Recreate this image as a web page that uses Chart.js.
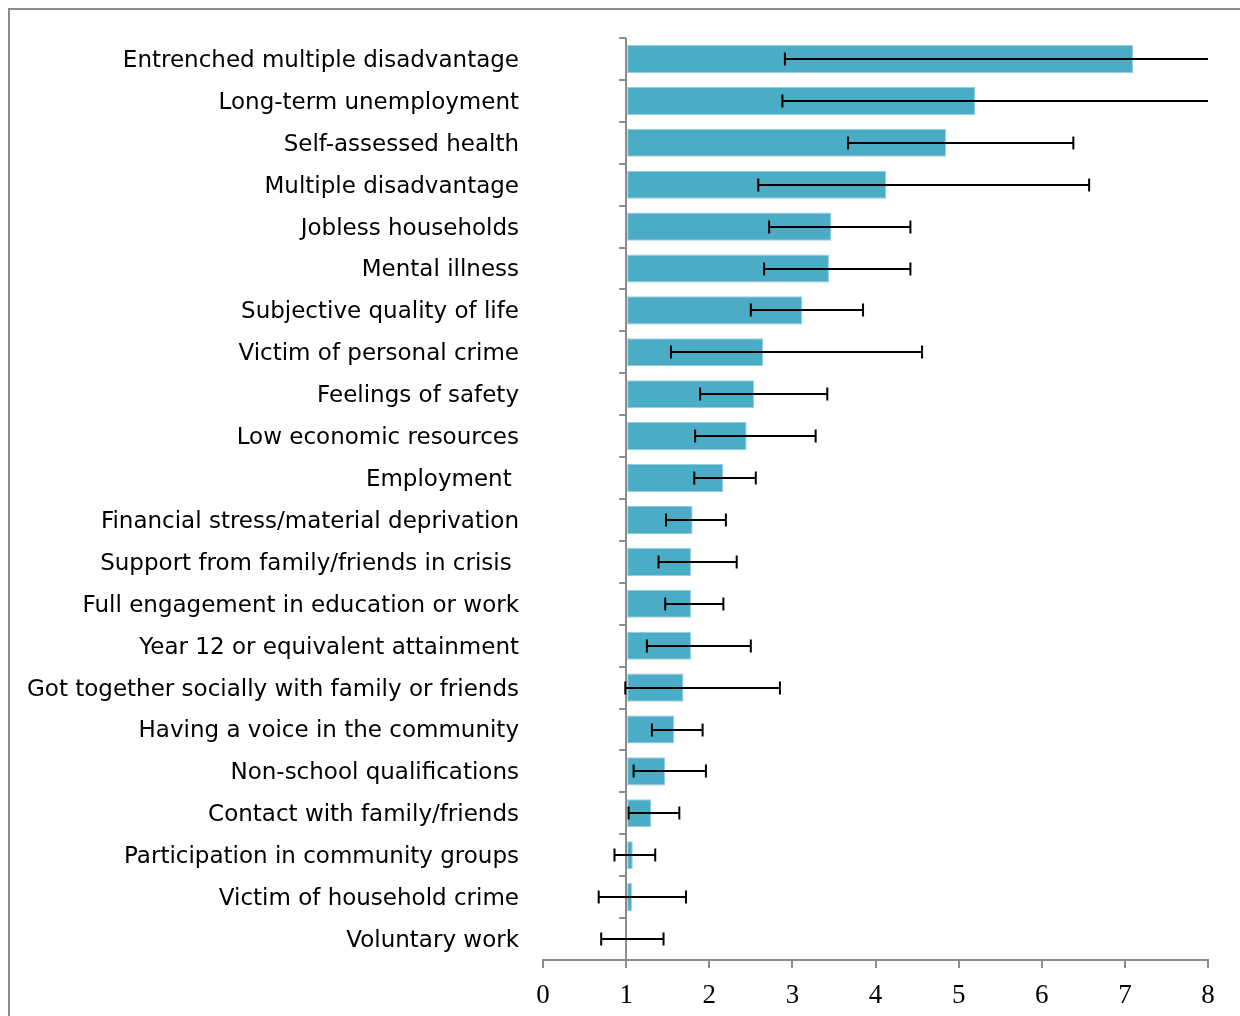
<!DOCTYPE html>
<html>
<head>
<meta charset="utf-8">
<script src="https://cdn.jsdelivr.net/npm/chart.js@4.4.1/dist/chart.umd.min.js"></script>
<style>
  html, body { margin: 0; padding: 0; background: #fff; overflow: hidden; }
  #frame { position: absolute; left: 8px; top: 8px; width: 1300px; height: 1100px;
           border-left: 2px solid #8c8c8c; border-top: 2px solid #8c8c8c; }
  #oddsChart { position: absolute; left: 0; top: 0; }
</style>
</head>
<body>
<div id="frame"></div>
<canvas id="oddsChart" width="1240" height="1016"></canvas>
<script>
let labels = ["Entrenched multiple disadvantage", "Long-term unemployment", "Self-assessed health",
  "Multiple disadvantage", "Jobless households", "Mental illness", "Subjective quality of life",
  "Victim of personal crime", "Feelings of safety", "Low economic resources", "Employment ",
  "Financial stress/material deprivation", "Support from family/friends in crisis ",
  "Full engagement in education or work", "Year 12 or equivalent attainment",
  "Got together socially with family or friends", "Having a voice in the community",
  "Non-school qualifications", "Contact with family/friends", "Participation in community groups",
  "Victim of household crime", "Voluntary work"];

let oddsRatio = [7.10, 5.20, 4.85, 4.13, 3.47, 3.44, 3.12, 2.65, 2.54, 2.45, 2.17,
  1.80, 1.78, 1.78, 1.78, 1.69, 1.58, 1.47, 1.30, 1.08, 1.07, 1.00];
let lowerCI = [2.91, 2.88, 3.67, 2.59, 2.72, 2.66, 2.50, 1.54, 1.89, 1.83, 1.82,
  1.48, 1.39, 1.47, 1.25, 0.99, 1.31, 1.09, 1.03, 0.86, 0.67, 0.70];
let upperCI = [10.3, 9.4, 6.38, 6.57, 4.42, 4.42, 3.85, 4.56, 3.42, 3.28, 2.56,
  2.20, 2.33, 2.17, 2.50, 2.85, 1.92, 1.96, 1.64, 1.35, 1.72, 1.45];
let xTicks = [0, 1, 2, 3, 4, 5, 6, 7, 8];

const axisGrey = '#8c8c8c';

// error bars + the small category ticks on the x = 1 line
const errorBars = {
  id: 'errorBars',
  afterDatasetsDraw(chart) {
    const ctx = chart.ctx, xs = chart.scales.x, ys = chart.scales.y;
    const x1 = xs.getPixelForValue(1);
    ctx.save();
    ctx.strokeStyle = axisGrey;
    ctx.lineWidth = 2;
    for (let i = 0; i <= labels.length; i++) {
      const y = Math.round(ys.getPixelForValue(i - 0.5));
      ctx.beginPath();
      ctx.moveTo(x1 - 7, y);
      ctx.lineTo(x1, y);
      ctx.stroke();
    }
    ctx.strokeStyle = '#000';
    ctx.lineWidth = 2;
    labels.forEach((l, i) => {
      const y = Math.round(ys.getPixelForValue(i));
      const lo = xs.getPixelForValue(Math.max(lowerCI[i], xs.min));
      const hi = xs.getPixelForValue(Math.min(upperCI[i], xs.max));
      ctx.beginPath();
      ctx.moveTo(lo, y);
      ctx.lineTo(hi, y);
      if (lowerCI[i] >= xs.min) { ctx.moveTo(lo, y - 6.5); ctx.lineTo(lo, y + 6.5); }
      if (upperCI[i] <= xs.max) { ctx.moveTo(hi, y - 6.5); ctx.lineTo(hi, y + 6.5); }
      ctx.stroke();
    });
    ctx.restore();
  }
};

new Chart(document.getElementById('oddsChart').getContext('2d'), {
  type: 'bar',
  data: {
    labels: labels,
    datasets: [{
      data: oddsRatio,
      base: 1,
      backgroundColor: '#4BACC6',
      borderColor: '#93cfdf',
      borderWidth: 1,
      borderSkipped: false,
      barPercentage: 0.67,
      categoryPercentage: 1
    }]
  },
  options: {
    indexAxis: 'y',
    responsive: false,
    animation: false,
    layout: { padding: { top: 38, right: 32, left: 0, bottom: 0 } },
    plugins: { legend: { display: false }, tooltip: { enabled: false } },
    scales: {
      x: {
        min: 0,
        max: 8,
        afterBuildTicks: (s) => { s.ticks = xTicks.map(v => ({ value: v })); },
        afterFit: (s) => { s.height = 56; },
        border: { display: true, color: axisGrey, width: 2 },
        grid: {
          drawOnChartArea: true,
          color: (c) => (c.tick && c.tick.value === 1) ? axisGrey : 'rgba(0,0,0,0)',
          lineWidth: 2,
          tickColor: axisGrey,
          tickLength: 8,
          tickWidth: 2
        },
        ticks: {
          padding: 12,
          color: '#000',
          font: { family: "'Liberation Serif', 'DejaVu Serif', serif", size: 27 }
        }
      },
      y: {
        afterFit: (s) => { s.width = 543; },
        border: { display: false },
        grid: { display: false, drawTicks: false },
        ticks: {
          autoSkip: false,
          padding: 24,
          labelOffset: 2,
          color: '#000',
          font: { family: "'DejaVu Sans', sans-serif", size: 23 }
        }
      }
    }
  },
  plugins: [errorBars]
});
</script>
</body>
</html>
